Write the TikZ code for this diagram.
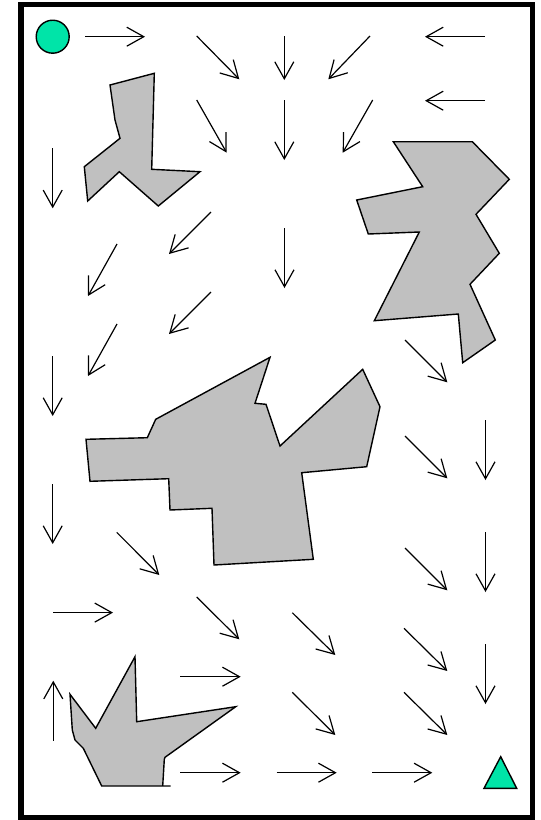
\documentclass[tikz,border=0pt]{standalone}
\usetikzlibrary{arrows.meta}
\definecolor{goalgreen}{RGB}{0,228,168}
\definecolor{obst}{RGB}{192,192,192}
\begin{document}
\begin{tikzpicture}[x=1pt,y=-1pt,
  vec/.style={line width=1.2pt,-{Straight Barb[length=17pt,width=19pt,line width=1.2pt]}},
  obstacle/.style={fill=obst,draw=black,line width=1.4pt,line join=miter},
  marker/.style={fill=goalgreen,draw=black,line width=1.4pt}]
\useasboundingbox (0,0) rectangle (541,820);
\draw[line width=5.8pt] (21,4.5) rectangle (532.5,817.5);
% start and goal
\node[marker,circle,minimum size=33pt,inner sep=0pt] (start) at (52.7,36.7) {};
\path[marker] (484,788.3) -- (500.7,756.7) -- (516.7,788.3) -- cycle;
\coordinate (goal) at (500.4,778);
% obstacles
\path[obstacle] (110,85) -- (154.3,73.3) -- (151.7,169.3) -- (200,171.7) -- (158.3,206) -- (119.3,171.7) -- (87.7,201) -- (84.3,166.7) -- (120,138.3) -- (115,120) -- cycle;
\path[obstacle] (393.3,141.7) -- (472.3,141.7) -- (509.3,179.3) -- (476,214.3) -- (499.3,253.3) -- (470,284.3) -- (495.3,340) -- (462.7,362.7) -- (458.3,314) -- (374.3,320.7) -- (419.3,232) -- (368.3,234) -- (356.7,200) -- (422.7,186.7) -- cycle;
\path[obstacle] (86,439.3) -- (147.3,437.7) -- (155.7,419.3) -- (270,357.3) -- (255,403.3) -- (266,404.3) -- (280,446) -- (362.7,369.3) -- (380,406.7) -- (366.7,466.7) -- (301.7,472.7) -- (313.3,559.3) -- (214,565) -- (212,508.3) -- (170,510) -- (168.7,478.7) -- (90,481.3) -- cycle;
\path[obstacle] (164.3,759.3) -- (162.7,786) -- (170.7,786) -- (101.7,786) -- (83.3,748.3) -- (75,740) -- (72.3,730) -- (70,694.3) -- (95.7,728.3) -- (135,656.7) -- (136.7,721.7) -- (235.7,706.7) -- (165,757.3) -- cycle;
% vector field
\foreach \ax/\ay/\bx/\by [count=\i] in {
  85/36.7/145/36.7, 196.7/36/239.3/79.3, 284.3/36/284.3/80, 370/36/328.3/79.3, 485/36.7/425/36.7,
  196.7/100/226.7/152.7, 284.3/100/284.3/160, 372.7/100/342.7/152.7, 485/100.7/425/100.7,
  52.7/148.3/52.7/208.3, 211/212/169/254, 284.5/228/284.5/288, 117/244/88/296,
  211/292/169/334, 117/324/88/376, 52.7/356/52.7/416,
  405/340/447.3/382.3, 405/436/447.3/478.3, 485.5/420/485.5/480,
  52.7/484/52.7/544, 116.7/532.3/159.3/575, 405/548/447.3/590.3, 485.5/532/485.5/592,
  53/612.6/113/612.6, 196.7/597/239.3/639.3, 292.3/612.7/335.3/655, 404/628.3/447.3/671,
  485.5/644/485.5/704, 180/676.7/240.7/676.7, 53.3/740.7/53.3/680.7,
  292.3/692.3/335.3/735, 404/692.3/447.3/735,
  180/772.7/240.7/772.7, 276.7/772.7/336.7/772.7, 372.3/772.7/432.3/772.7}
{
  \coordinate (v\i a) at (\ax,\ay);
  \coordinate (v\i b) at (\bx,\by);
  \draw[vec] (v\i a) -- (v\i b);
}
\end{tikzpicture}
\end{document}
